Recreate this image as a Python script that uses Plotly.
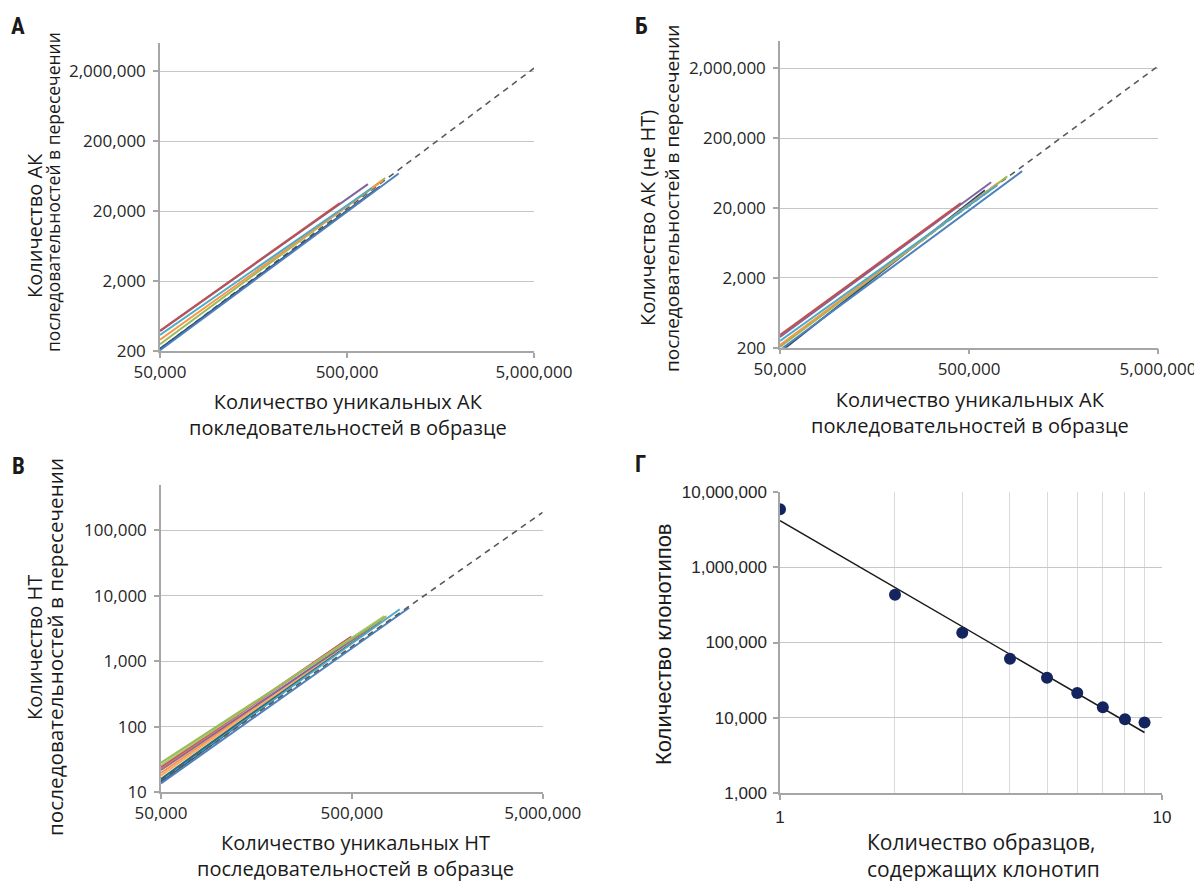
import plotly.graph_objects as go
import math

# Browser page keeps an 8px body margin; coordinates are shifted to compensate.
W, H = 1202, 881
OFF = 8

# ---------------- DATA ----------------
# Panel A: each line from x=50,000 to an end point (AA sequences)
a_colors = ["#2C4D75", "#4F81BD", "#9BBB59", "#F79646", "#4BACC6", "#8064A2", "#C0504D"]
a_x_start = [50000, 50000, 50000, 50000, 50000, 50000, 50000]
a_y_start = [215, 205, 250, 290, 340, 385, 390]
a_x_end = [750000, 945000, 800000, 780000, 680000, 647000, 458000]
a_y_end = [45000, 69000, 59500, 55000, 42700, 48600, 26000]
a_trend_x = [50000, 5000000]
a_trend_y = [215, 2200000]

# Panel B: AA (non NT) sequences
b_colors = ["#2C4D75", "#4F81BD", "#9BBB59", "#F79646", "#4BACC6", "#8064A2", "#C0504D"]
b_x_start = [50000, 50000, 50000, 50000, 50000, 50000, 50000]
b_y_start = [173, 185, 205, 219, 249, 285, 304]
b_x_end = [607000, 955000, 797000, 711000, 705000, 655000, 453000]
b_y_end = [36000, 67600, 57000, 45500, 42600, 47000, 23600]
b_trend_x = [50000, 5000000]
b_trend_y = [216, 2160000]

# Panel C: NT sequences
c_colors = ["#2C4D75", "#4F81BD", "#4BACC6", "#276A7C", "#F79646", "#F9AB6B",
            "#8064A2", "#CD7371", "#C0504D", "#AFC97A", "#9BBB59"]
c_x_start = [50000] * 11
c_y_start = [14.5, 13.7, 15.5, 16.0, 19.7, 18.0, 21.9, 23.0, 24.6, 26.0, 28.3]
c_x_end = [700000, 998000, 891000, 620000, 740000, 760000, 715000, 480000, 498000, 740000, 754000]
c_y_end = [4000, 6580, 6220, 3200, 4650, 4900, 4270, 2200, 2380, 4900, 4800]
c_trend_x = [50000, 5000000]
c_trend_y = [15, 188000]

# Panel D: clonotypes shared by N samples
d_x = [1, 2, 3, 4, 5, 6, 7, 8, 9]
d_y = [5890000, 431000, 135000, 60700, 34000, 21400, 13800, 9580, 8660]
d_trend_x = [1, 9]
d_trend_y = [4150000, 6370]

a_yticks = [200, 2000, 20000, 200000, 2000000]
a_ytext = ["200", "2,000", "20,000", "200,000", "2,000,000"]
x_ticks = [50000, 500000, 5000000]
x_text = ["50,000", "500,000", "5,000,000"]
c_yticks = [10, 100, 1000, 10000, 100000]
c_ytext = ["10", "100", "1,000", "10,000", "100,000"]
d_yticks = [1000, 10000, 100000, 1000000, 10000000]
d_ytext = ["1,000", "10,000", "100,000", "1,000,000", "10,000,000"]

# ---------------- FIGURE ----------------
fig = go.Figure()

TICKFONT = dict(family="Open Sans, Liberation Sans, sans-serif", size=17, color="#262626")
DFONT = dict(family="Liberation Sans, Arial, sans-serif", size=17, color="#262626")
AXCOL = "#a6a6a6"
GRIDCOL = "#c6c6c6"


def dom_x(a, b):
    return [(a - OFF) / W, (b - OFF) / W]


def dom_y(top, bottom):
    return [1 - (bottom - OFF) / H, 1 - (top - OFF) / H]


def add_trend(tx, ty, xa, ya):
    fig.add_trace(go.Scatter(x=tx, y=ty, mode="lines", xaxis=xa, yaxis=ya,
                             line=dict(color="#595959", width=1.6, dash="6px,5px"),
                             showlegend=False, hoverinfo="skip"))


def add_lines(xs0, ys0, xs1, ys1, cols, xa, ya, trend_x, trend_y, trend_pos):
    n = len(cols)
    for i in range(n):
        if i == trend_pos:
            add_trend(trend_x, trend_y, xa, ya)
        fig.add_trace(go.Scatter(x=[xs0[i], xs1[i]], y=[ys0[i], ys1[i]], mode="lines",
                                 xaxis=xa, yaxis=ya, line=dict(color=cols[i], width=2),
                                 showlegend=False))
    if trend_pos >= n:
        add_trend(trend_x, trend_y, xa, ya)


add_lines(a_x_start, a_y_start, a_x_end, a_y_end, a_colors, "x", "y", a_trend_x, a_trend_y, 0)
add_lines(b_x_start, b_y_start, b_x_end, b_y_end, b_colors, "x2", "y2", b_trend_x, b_trend_y, 0)
add_lines(c_x_start, c_y_start, c_x_end, c_y_end, c_colors, "x3", "y3", c_trend_x, c_trend_y, 6)

# Panel D
fig.add_trace(go.Scatter(x=d_trend_x, y=d_trend_y, mode="lines", xaxis="x4", yaxis="y4",
                         line=dict(color="#1a1a1a", width=1.5), showlegend=False))
fig.add_trace(go.Scatter(x=d_x, y=d_y, mode="markers", xaxis="x4", yaxis="y4",
                         marker=dict(color="#13245e", size=12), showlegend=False))


def xaxis_common(domain, rng, anchor, ticks, text):
    return dict(type="log", domain=domain, range=rng, anchor=anchor, automargin=False,
                tickmode="array", tickvals=ticks, ticktext=text,
                showgrid=False, showline=True, linecolor=AXCOL, linewidth=1.5,
                ticks="outside", ticklen=5, tickcolor=AXCOL, tickwidth=1.5,
                tickfont=TICKFONT, zeroline=False)


def yaxis_common(domain, rng, anchor, ticks, text):
    return dict(type="log", domain=domain, range=rng, anchor=anchor, automargin=False,
                tickmode="array", tickvals=ticks, ticktext=text,
                showgrid=True, gridcolor=GRIDCOL, gridwidth=1,
                showline=True, linecolor=AXCOL, linewidth=1.5,
                ticks="outside", ticklen=5, tickcolor=AXCOL, tickwidth=1.5,
                ticklabelstandoff=4,
                tickfont=TICKFONT, zeroline=False)


L = math.log10
layout = dict(
    width=W, height=H, margin=dict(l=0, r=0, t=0, b=0, pad=0, autoexpand=False),
    paper_bgcolor="white", plot_bgcolor="white", showlegend=False,
    xaxis=xaxis_common(dom_x(160, 534), [L(5e4), L(5e6)], "y", x_ticks, x_text),
    yaxis=yaxis_common(dom_y(43.3, 351), [L(200), L(5e6)], "x", a_yticks, a_ytext),
    xaxis2=xaxis_common(dom_x(780, 1158), [L(5e4), L(5e6)], "y2", x_ticks, x_text),
    yaxis2=yaxis_common(dom_y(40.7, 347.7), [L(200), L(5e6)], "x2", a_yticks, a_ytext),
    xaxis3=xaxis_common(dom_x(161, 542.7), [L(5e4), L(5e6)], "y3", x_ticks, x_text),
    yaxis3=yaxis_common(dom_y(484.5, 792.3), [L(10), L(5e5)], "x3", c_yticks, c_ytext),
    xaxis4=dict(type="log", domain=dom_x(780, 1162), range=[0, 1], anchor="y4", automargin=False,
                tickmode="array", tickvals=[1, 10], ticktext=["1", "10"],
                showgrid=False, showline=True, linecolor=AXCOL, linewidth=1.5,
                ticks="outside", ticklen=5, tickcolor=AXCOL, tickwidth=1.5,
                ticklabelstandoff=3,
                tickfont=DFONT, zeroline=False,
                minor=dict(tickmode="array", tickvals=[2, 3, 4, 5, 6, 7, 8, 9],
                           showgrid=True, gridcolor="#dadada", gridwidth=1, ticks="")),
    yaxis4=dict(type="log", domain=dom_y(492, 793), range=[3, 7], anchor="x4", automargin=False,
                tickmode="array", tickvals=d_yticks, ticktext=d_ytext,
                showgrid=False, showline=True, linecolor=AXCOL, linewidth=1.5,
                ticks="outside", ticklen=5, tickcolor=AXCOL, tickwidth=1.5,
                ticklabelstandoff=3,
                tickfont=DFONT, zeroline=False,
                minor=dict(tickmode="array", tickvals=[10000, 100000, 1000000],
                           showgrid=True, gridcolor=GRIDCOL, gridwidth=1, ticks="")),
)
fig.update_layout(**layout)

TFONT = "Open Sans, Liberation Sans, sans-serif"
anns = []


def ann(text, x, y, size, angle=0, family=TFONT, bold=False, xanchor="center", align="center"):
    t = f"<b>{text}</b>" if bold else text
    anns.append(dict(text=t, x=(x - OFF) / W, y=1 - (y - OFF) / H, xref="paper", yref="paper",
                     xanchor=xanchor, yanchor="middle", showarrow=False, textangle=angle,
                     align=align,
                     font=dict(family=family, size=size, color="#1a1a1a")))


LBL = "Liberation Sans Narrow, Roboto Condensed, Roboto, sans-serif"
ann("А", 18, 26, 23, bold=True, family=LBL)
ann("Б", 641, 27, 23, bold=True, family=LBL)
ann("В", 18, 466, 23, bold=True, family=LBL)
ann("Г", 640, 464, 23, bold=True, family=LBL)

# Panel A titles
ann("Количество АК", 34, 226, 20, angle=-90)
ann("последовательностей в пересечении", 53, 192, 17.5, angle=-90)
ann("Количество уникальных АК<br>покледовательностей в образце", 348, 415, 20)

# Panel B titles
ann("Количество АК (не НТ)", 647, 218, 20, angle=-90)
ann("последовательностей в пересечении", 672, 199, 19, angle=-90)
ann("Количество уникальных АК<br>покледовательностей в образце", 970, 412, 20)

# Panel C titles
ann("Количество НТ", 34, 648, 20, angle=-90)
ann("последовательностей в пересечении", 55, 647, 20.7, angle=-90)
ann("Количество уникальных НТ<br>последовательностей в образце", 355, 855, 20)

# Panel D titles
ann("Количество клонотипов", 663, 644, 22, angle=-90, family="Liberation Sans, Arial, sans-serif")
ann("Количество образцов,<br>содержащих клонотип", 865, 855, 21, xanchor="left", align="left")

fig.update_layout(annotations=anns)
fig.write_html("out.html")
